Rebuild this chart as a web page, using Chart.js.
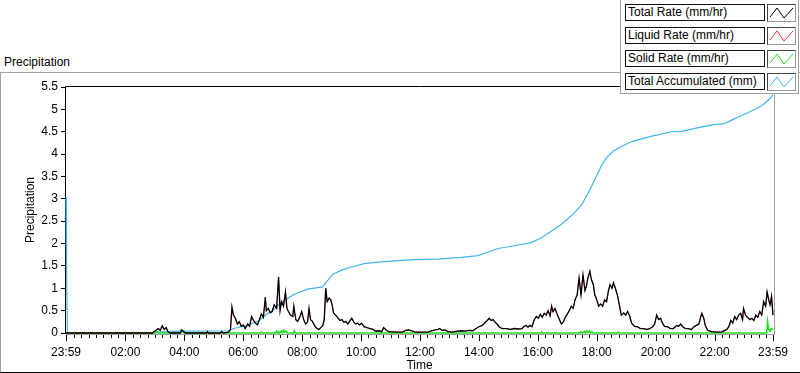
<!DOCTYPE html>
<html>
<head>
<meta charset="utf-8">
<script src="https://cdn.jsdelivr.net/npm/chart.js@4"></script>
<style>
  html, body { margin: 0; padding: 0; background: #fff; }
  body { width: 800px; height: 373px; position: relative; overflow: hidden; font-family: "Liberation Sans", Arial, sans-serif; font-size: 12px; }
  #frame { position: absolute; left: 0; top: 72px; width: 830px; height: 299px; border-top: 1px solid #a0a0a0; border-left: 1px solid #a0a0a0; border-bottom: 1px solid #000; }
  #caption { position: absolute; left: 4px; top: 55px; color: #000; }
  #chart { position: absolute; left: 0; top: 0; }
  #legend { position: absolute; left: 620px; top: 0; width: 177px; height: 93px; background: #fff; border-left: 1px solid #a0a0a0; border-right: 1px solid #a0a0a0; border-bottom: 1px solid #a0a0a0; }
  .row { position: absolute; left: 0; height: 17px; }
  .lbl { position: absolute; left: 4px; top: 0; width: 136px; height: 15px; line-height: 15px; padding-left: 2px; border: 1px solid #111; white-space: nowrap; }
  .ico { position: absolute; left: 146px; top: 0; width: 27px; height: 16px; border: 1px solid #444; border-right-color: #999; border-bottom-color: #999; }
</style>
</head>
<body>
<div id="frame"></div>
<div id="caption">Precipitation</div>
<canvas id="chart" width="800" height="373"></canvas>
<div id="legend"></div>
<script>
// minutes after midnight; -1 is 23:59 of the previous day
const seriesNames = ['Total Rate (mm/hr)', 'Liquid Rate (mm/hr)', 'Solid Rate (mm/hr)', 'Total Accumulated (mm)'];
const seriesColors = ['#000000', '#ff3030', '#1ee01e', '#3cb6f2'];
const yTicks = [0, 0.5, 1, 1.5, 2, 2.5, 3, 3.5, 4, 4.5, 5, 5.5];

const totalRate = [
  [-1,0],[175,0],[181,0.05],[187,0.1],[191,0.06],[195,0.16],[199,0.08],[203,0.12],[207,0.02],[211,0],
  [232,0],[234,0.07],[238,0.04],[242,0],[285,0],[287,0.03],[289,0],[313,0],[316,0.03],[320,0],
  [330,0.02],[334,0.08],[337,0.58],[340,0.4],[344,0.33],[348,0.2],[352,0.25],[356,0.15],[360,0.18],[364,0.1],
  [369,0.2],[373,0.15],[377,0.37],[381,0.28],[385,0.22],[389,0.18],[393,0.3],[397,0.43],[401,0.35],[405,0.8],
  [407,0.5],[411,0.55],[415,0.45],[419,0.48],[423,0.63],[428,0.55],[432,1.25],[435,0.5],[438,0.7],[442,0.6],
  [446,0.92],[449,0.55],[452,0.48],[456,0.4],[461,0.37],[463,0.6],[467,0.3],[471,0.26],[475,0.35],[479,0.48],
  [483,0.3],[487,0.2],[491,0.25],[494,0.55],[497,0.3],[501,0.26],[506,0.15],[510,0.1],[514,0.08],[518,0.12],
  [522,0.17],[525,0.3],[528,1.0],[531,0.7],[535,0.78],[538,0.75],[541,0.63],[544,0.45],[548,0.4],[552,0.35],
  [557,0.28],[561,0.3],[565,0.24],[569,0.26],[573,0.2],[577,0.27],[581,0.33],[585,0.25],[589,0.2],[593,0.22],
  [597,0.18],[601,0.22],[606,0.14],[612,0.12],[618,0.1],[624,0.08],[630,0.04],[636,0.05],[642,0.03],[646,0.12],
  [650,0.08],[656,0.03],[671,0.02],[685,0.02],[691,0.06],[697,0.07],[703,0.05],[710,0.02],[722,0.02],[736,0.02],
  [742,0.04],[751,0.07],[757,0.08],[760,0.1],[765,0.06],[771,0.07],[777,0.03],[787,0.02],[796,0.04],[804,0.05],
  [812,0.04],[820,0.06],[828,0.05],[834,0.1],[840,0.14],[847,0.17],[853,0.24],[857,0.28],[861,0.33],[865,0.28],
  [869,0.3],[873,0.24],[877,0.2],[881,0.14],[887,0.1],[896,0.1],[904,0.08],[912,0.1],[920,0.09],[928,0.1],
  [932,0.15],[936,0.17],[940,0.13],[944,0.17],[948,0.14],[953,0.3],[957,0.37],[961,0.33],[965,0.42],[969,0.35],
  [973,0.44],[977,0.4],[981,0.5],[985,0.38],[988,0.6],[991,0.48],[995,0.55],[1000,0.4],[1004,0.3],[1008,0.2],
  [1012,0.25],[1016,0.35],[1020,0.42],[1024,0.5],[1028,0.6],[1032,0.55],[1036,0.75],[1040,0.85],[1044,1.23],[1048,0.85],
  [1052,1.3],[1056,0.95],[1059,1.05],[1062,1.23],[1066,1.38],[1069,1.2],[1073,1.08],[1076,0.85],[1079,0.78],[1084,0.6],
  [1088,0.65],[1092,0.6],[1096,0.74],[1100,0.7],[1104,0.95],[1107,1.08],[1111,1.0],[1114,1.12],[1118,1.0],[1122,0.85],
  [1126,0.63],[1130,0.4],[1135,0.45],[1139,0.4],[1143,0.48],[1147,0.38],[1151,0.22],[1157,0.15],[1163,0.14],[1169,0.1],
  [1175,0.1],[1182,0.08],[1188,0.1],[1194,0.14],[1198,0.2],[1202,0.4],[1206,0.3],[1210,0.33],[1214,0.22],[1218,0.15],
  [1224,0.14],[1230,0.1],[1236,0.1],[1243,0.17],[1247,0.15],[1251,0.2],[1255,0.14],[1261,0.1],[1267,0.1],[1273,0.08],
  [1279,0.15],[1283,0.17],[1288,0.2],[1291,0.33],[1294,0.44],[1298,0.33],[1301,0.17],[1306,0.06],[1314,0.03],[1324,0.02],
  [1334,0.02],[1345,0.08],[1349,0.14],[1353,0.28],[1357,0.22],[1361,0.37],[1365,0.3],[1369,0.4],[1373,0.44],[1377,0.3],
  [1379,0.55],[1383,0.4],[1387,0.35],[1392,0.3],[1396,0.33],[1400,0.28],[1404,0.4],[1408,0.35],[1412,0.48],[1416,0.4],
  [1420,0.7],[1424,0.6],[1427,0.92],[1430,0.75],[1433,0.63],[1436,0.82],[1439,0.4]
];

// the red trace lies under the black one almost everywhere
const liquidRate = totalRate;

const solidRate = [
  [-1,0],[180,0],[183,0.03],[186,0],[233,0],[236,0.03],[239,0],[395,0],[398,0.02],[401,0],
  [426,0],[428,0.04],[430,0],[432,0.03],[434,0],[438,0.05],[440,0],[443,0.06],[445,0.02],[447,0.04],
  [450,0],[462,0],[464,0.05],[466,0],[966,0],[968,0.02],[970,0],[1046,0],[1048,0.03],[1051,0],
  [1055,0.04],[1057,0],[1060,0.05],[1062,0.01],[1065,0.04],[1067,0],[1070,0.03],[1072,0],[1122,0],[1124,0.02],
  [1126,0],[1426,0],[1428,0.25],[1430,0.08],[1433,0.04],[1436,0.1],[1439,0.07]
];

const totalAccum = [
  [-1,3.04],[0,1.5],[2,0],[170,0],[181,0.02],[205,0.03],[238,0.04],[287,0.045],[330,0.05],[340,0.1],
  [369,0.17],[389,0.26],[409,0.43],[422,0.52],[436,0.67],[463,0.86],[491,0.98],[522,1.03],[528,1.12],[542,1.31],
  [559,1.4],[579,1.47],[606,1.55],[640,1.59],[675,1.62],[708,1.64],[757,1.65],[777,1.67],[804,1.69],[838,1.73],
  [859,1.81],[879,1.89],[912,1.95],[947,2.02],[967,2.13],[988,2.28],[1008,2.43],[1028,2.62],[1049,2.86],[1065,3.18],
  [1079,3.5],[1090,3.75],[1100,3.92],[1114,4.07],[1130,4.17],[1151,4.28],[1192,4.4],[1233,4.5],[1253,4.51],[1294,4.61],
  [1318,4.66],[1339,4.68],[1355,4.76],[1376,4.87],[1396,4.97],[1416,5.08],[1431,5.22],[1439,5.33]
];

const seriesData = [totalRate, liquidRate, solidRate, totalAccum];
const seriesWidths = [1.3, 0.7, 1.6, 1.2];

const timeLabel = v => {
  if (v < 0 || v >= 1439) return '23:59';
  if (v % 120 !== 0) return '';
  const h = Math.floor(v / 60);
  return String(h).padStart(2, '0') + ':00';
};

// legend boxes
const legend = document.getElementById('legend');
seriesNames.forEach((name, i) => {
  const row = document.createElement('div');
  row.className = 'row';
  row.style.top = (4 + i * 23) + 'px';
  row.innerHTML = '<div class="lbl">' + name + '</div>' +
    '<div class="ico"><svg width="27" height="16"><polyline points="2,12 9,3 16,13 25,3" fill="none" stroke="' +
    seriesColors[i] + '" stroke-width="1"/></svg></div>';
  legend.appendChild(row);
});

const plotFrame = {
  id: 'plotFrame',
  beforeDatasetsDraw(chart) {
    const ctx = chart.ctx;
    const area = chart.chartArea;
    const xs = chart.scales.x;
    ctx.save();
    ctx.strokeStyle = '#000';
    ctx.lineWidth = 1;
    xs.ticks.forEach(t => {
      const px = Math.round(xs.getPixelForValue(t.value)) + 0.5;
      const len = t.label ? 6 : 3;
      ctx.beginPath();
      ctx.moveTo(px, area.bottom + 2);
      ctx.lineTo(px, area.bottom + 2 + len);
      ctx.stroke();
    });
    // dark top/left, grey bottom/right
    ctx.strokeStyle = '#a0a0a0';
    ctx.beginPath();
    ctx.moveTo(area.left, area.bottom + 1.5);
    ctx.lineTo(area.right + 1.5, area.bottom + 1.5);
    ctx.lineTo(area.right + 1.5, area.top);
    ctx.stroke();
    ctx.strokeStyle = '#000';
    ctx.beginPath();
    ctx.moveTo(area.left - 0.5, area.bottom + 1);
    ctx.lineTo(area.left - 0.5, area.top - 0.5);
    ctx.lineTo(area.right + 1, area.top - 0.5);
    ctx.stroke();
    ctx.restore();
  }
};

new Chart(document.getElementById('chart').getContext('2d'), {
  type: 'line',
  data: {
    datasets: seriesData.map((d, i) => ({
      label: seriesNames[i],
      data: d.map(p => ({ x: p[0], y: p[1] })),
      borderColor: seriesColors[i],
      backgroundColor: seriesColors[i],
      borderWidth: seriesWidths[i],
      pointRadius: 0,
      tension: 0,
      fill: false,
      clip: 3
    }))
  },
  options: {
    responsive: false,
    animation: false,
    devicePixelRatio: 1,
    layout: { padding: { top: 87, right: 27, bottom: 0, left: 0 } },
    plugins: { legend: { display: false }, tooltip: { enabled: false } },
    scales: {
      x: {
        type: 'linear',
        min: -1,
        max: 1439,
        afterFit: s => { s.height = 40; },
        afterBuildTicks: s => {
          const ticks = [{ value: -1 }];
          for (let v = 15; v < 1439; v += 15) ticks.push({ value: v });
          ticks.push({ value: 1439 });
          s.ticks = ticks;
        },
        grid: { display: false },
        border: { display: false },
        ticks: {
          autoSkip: false,
          maxRotation: 0,
          padding: 4,
          color: '#000',
          font: { family: 'Liberation Sans', size: 12 },
          callback: v => timeLabel(v)
        },
        title: {
          display: true,
          text: 'Time',
          color: '#000',
          padding: 0,
          font: { family: 'Liberation Sans', size: 12 }
        }
      },
      y: {
        min: 0,
        max: 5.5,
        afterFit: s => { s.width = 66; },
        afterBuildTicks: s => { s.ticks = yTicks.map(v => ({ value: v })); },
        grid: { drawOnChartArea: false, tickLength: 5, color: '#000' },
        border: { display: false },
        ticks: {
          padding: 3,
          color: '#000',
          font: { family: 'Liberation Sans', size: 12 },
          callback: v => String(v)
        },
        title: {
          display: true,
          text: 'Precipitation',
          color: '#000',
          padding: { top: 23, bottom: 0 },
          font: { family: 'Liberation Sans', size: 12 }
        }
      }
    }
  },
  plugins: [plotFrame]
});
</script>
</body>
</html>
